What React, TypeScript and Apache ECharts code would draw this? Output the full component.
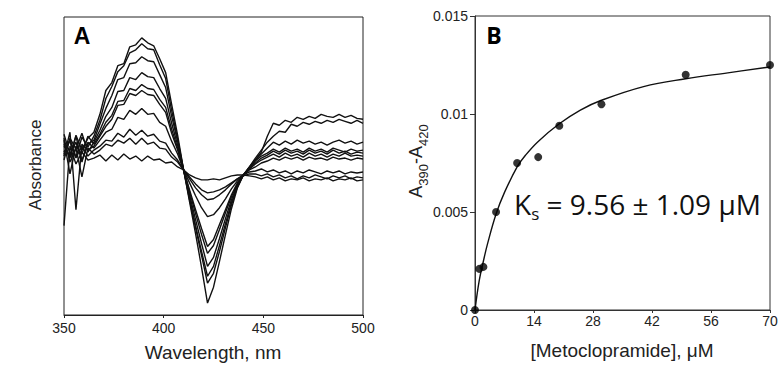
import React, { useEffect, useRef } from "react";
import * as echarts from "echarts";

// Panel A: difference spectra (wavelength in nm, ΔA in arbitrary milli-units)
const wavelengths = [350,353,356,359,362,365,368,371,374,377,380,383,386,389,392,395,398,401,404,407,410,413,416,419,422,425,428,431,434,437,440,443,446,449,452,455,458,461,464,467,470,473,476,479,482,485,488,491,494,497,500];

const spectrum1 = [2.2,0.8,3.1,1.6,2.8,3.4,5.2,7.6,8.4,10.1,10.3,12.0,12.2,12.9,12.4,12.1,10.8,9.4,6.2,3.1,-0.4,-3.6,-6.8,-10.2,-13.8,-12.2,-9.6,-6.9,-4.3,-2.2,-0.9,-0.1,0.6,1.4,3.0,4.3,4.1,4.6,4.4,4.9,4.7,5.0,4.8,5.2,5.0,4.9,5.2,4.9,5.1,4.8,4.7];
const spectrum2 = [1.4,2.6,0.9,2.9,1.9,3.0,4.6,6.8,8.0,9.5,10.1,11.4,11.7,12.3,11.8,11.7,10.2,8.8,5.6,2.7,-0.4,-3.4,-6.2,-9.0,-11.8,-10.8,-8.6,-6.2,-3.9,-2.1,-0.9,-0.1,0.8,1.6,2.4,3.0,3.5,3.4,4.2,4.0,4.4,4.2,4.5,4.3,4.6,4.4,4.7,4.5,4.3,4.6,4.3];
const spectrum3 = [3.2,1.2,2.4,0.6,2.2,2.6,4.2,5.8,7.1,8.7,8.9,10.3,10.4,11.0,10.6,10.5,9.2,7.9,5.0,2.5,-0.4,-3.2,-6.0,-8.6,-11.1,-10.1,-8.0,-5.8,-3.7,-2.0,-0.9,-0.2,0.6,1.2,1.8,2.4,2.1,2.5,2.2,2.6,2.3,2.5,2.2,2.4,2.1,2.4,2.6,2.3,2.5,2.2,2.4];
const spectrum4 = [0.6,2.8,1.7,3.3,1.4,2.4,3.6,5.0,5.9,7.5,7.6,8.9,8.7,9.4,9.0,8.9,7.8,6.8,4.3,2.1,-0.4,-2.9,-5.4,-7.8,-10.1,-9.2,-7.3,-5.3,-3.4,-1.9,-0.9,-0.2,0.5,1.0,1.3,1.7,1.4,1.8,1.5,1.7,1.4,1.8,1.5,1.7,1.4,1.8,1.6,1.4,1.7,1.5,1.6];
const spectrum5 = [2.6,-0.8,2.0,1.2,3.0,2.2,3.2,4.4,5.1,6.5,6.6,7.8,7.6,8.2,7.8,7.7,6.7,5.9,3.7,1.8,-0.4,-2.6,-4.8,-6.9,-8.8,-8.0,-6.4,-4.7,-3.1,-1.8,-0.9,-0.3,0.3,0.8,1.1,1.5,1.2,1.6,1.3,1.5,1.2,1.6,1.3,1.5,1.2,1.6,1.3,1.5,1.2,1.4,1.3];
const spectrum6 = [1.0,3.4,-4.4,2.2,1.6,2.0,3.0,4.0,4.7,6.1,6.2,7.3,7.1,7.6,7.2,7.1,6.2,5.4,3.3,1.6,-0.4,-2.4,-4.4,-6.3,-8.1,-7.4,-5.9,-4.4,-2.9,-1.7,-0.9,-0.3,0.2,0.6,0.9,1.2,0.9,1.3,1.0,1.2,0.9,1.3,1.0,1.2,0.9,1.2,1.0,1.3,1.0,1.1,1.0];
const spectrum7 = [2.0,1.0,3.0,0.4,2.4,1.8,2.6,3.4,3.7,4.9,4.7,5.6,5.2,5.8,5.2,5.3,4.4,4.0,2.5,1.2,-0.4,-1.7,-3.0,-4.2,-5.1,-4.9,-4.2,-3.3,-2.3,-1.5,-0.9,-0.4,-0.1,0.3,0.5,0.8,0.6,0.9,0.7,0.9,0.6,0.9,0.7,0.8,0.6,0.9,0.7,0.8,0.6,0.8,0.7];
const spectrum8 = [1.2,2.6,0.8,2.0,1.0,1.6,2.0,2.6,2.5,3.3,2.9,3.7,3.1,3.6,3.0,3.2,2.5,2.3,1.3,0.6,-0.4,-1.3,-2.2,-2.9,-3.4,-3.3,-2.9,-2.4,-1.8,-1.3,-0.9,-0.6,-0.5,-0.3,-0.6,-0.4,-0.7,-0.5,-0.8,-0.5,-0.7,-0.4,-0.6,-0.8,-0.5,-0.7,-0.5,-0.8,-0.6,-0.7,-0.6];
const spectrum9 = [2.8,0.4,1.8,-1.1,1.8,1.2,1.6,2.2,2.0,2.6,2.3,2.8,2.2,2.8,2.2,2.4,1.8,1.7,0.9,0.4,-0.4,-1.1,-1.8,-2.4,-2.7,-2.6,-2.4,-2.1,-1.7,-1.3,-1.0,-0.8,-0.8,-1.0,-0.8,-1.1,-0.9,-1.2,-1.0,-1.3,-1.0,-1.2,-0.9,-1.1,-1.3,-1.0,-1.2,-1.0,-1.3,-1.1,-1.2];
const spectrum10 = [-6.0,2.0,0.2,1.4,0.6,0.8,1.1,0.5,1.1,0.6,1.2,0.7,1.0,0.5,1.0,0.6,0.7,0.3,0.4,-0.1,-0.4,-0.9,-1.2,-1.4,-1.4,-1.3,-1.4,-1.2,-1.0,-0.9,-0.9,-1.0,-1.1,-1.3,-1.1,-1.4,-1.2,-1.5,-1.3,-1.4,-1.2,-1.5,-1.3,-1.4,-1.2,-1.5,-1.3,-1.4,-1.2,-1.5,-1.4];

const spectra = [spectrum1, spectrum2, spectrum3, spectrum4, spectrum5, spectrum6, spectrum7, spectrum8, spectrum9, spectrum10];

const wavelengthTicks = [350, 400, 450, 500];

// Panel B: binding titration
const concentrations = [0, 1, 2, 5, 10, 15, 20, 30, 50, 70];
const absDiff = [0, 0.0021, 0.0022, 0.005, 0.0075, 0.0078, 0.0094, 0.0105, 0.012, 0.0125];
const fitConc = [0, 1, 2, 3, 5, 7, 10, 12, 15, 20, 25, 30, 40, 50, 60, 70];
const fitAbs = [0, 0.0015, 0.0025, 0.0034, 0.0049, 0.006, 0.0073, 0.0079, 0.0086, 0.0095, 0.0102, 0.0107, 0.0114, 0.0118, 0.0121, 0.0124];
const concTicks = [0, 14, 28, 42, 56, 70];
const absTicks = [0, 0.005, 0.01, 0.015];

const AX = "Liberation Sans, Arial, sans-serif";
const TXT = "#222";

export default function App() {
  const ref = useRef<HTMLDivElement>(null);
  useEffect(() => {
    document.body.style.margin = "0";
    const chart = echarts.init(ref.current!, null, { renderer: "svg" });
    const specSeries = spectra.map((s, i) => ({
      type: "line",
      name: "spectrum" + (i + 1),
      xAxisIndex: 0,
      yAxisIndex: 0,
      data: wavelengths.map((w, j) => [w, s[j]]),
      showSymbol: false,
      symbol: "none",
      lineStyle: { color: "#111", width: 1.4 },
      silent: true,
    }));
    const option = {
      animation: false,
      backgroundColor: "#fff",
      grid: [
        { left: 64, top: 17, width: 299, height: 298, show: true, borderColor: "#222", borderWidth: 1, backgroundColor: "transparent" },
        { left: 475, top: 16, width: 295, height: 294, show: true, borderColor: "#333", borderWidth: 1, backgroundColor: "transparent" },
      ],
      xAxis: [
        {
          type: "value", gridIndex: 0, min: wavelengthTicks[0], max: wavelengthTicks[3], interval: 50,
          axisLine: { show: true, onZero: false, lineStyle: { color: "#222", width: 1 } },
          axisTick: { show: true, length: 3, lineStyle: { color: "#222" } },
          axisLabel: { fontSize: 14, color: TXT, margin: 6, fontFamily: AX },
          splitLine: { show: false },
        },
        {
          type: "value", gridIndex: 1, min: concTicks[0], max: concTicks[5], interval: 14,
          axisLine: { show: true, onZero: false, lineStyle: { color: "#333", width: 1 } },
          axisTick: { show: true, length: 3, lineStyle: { color: "#333" } },
          axisLabel: { fontSize: 14, color: TXT, margin: 4, fontFamily: AX },
          splitLine: { show: false },
        },
      ],
      yAxis: [
        {
          type: "value", gridIndex: 0, min: -15, max: 15,
          axisLine: { show: false }, axisTick: { show: false }, axisLabel: { show: false }, splitLine: { show: false },
        },
        {
          type: "value", gridIndex: 1, min: absTicks[0], max: absTicks[3], interval: 0.005,
          axisLine: { show: true, onZero: false, lineStyle: { color: "#333", width: 1 } },
          axisTick: { show: true, length: 5, lineStyle: { color: "#333" } },
          axisLabel: { fontSize: 14, color: TXT, margin: 7, fontFamily: AX },
          splitLine: { show: false },
        },
      ],
      series: [
        ...specSeries,
        {
          type: "line", name: "fit", xAxisIndex: 1, yAxisIndex: 1,
          data: fitConc.map((c, i) => [c, fitAbs[i]]),
          smooth: 0.4, showSymbol: false, symbol: "none",
          lineStyle: { color: "#111", width: 1.4 }, silent: true, z: 3,
        },
        {
          type: "scatter", name: "data", xAxisIndex: 1, yAxisIndex: 1,
          data: concentrations.map((c, i) => [c, absDiff[i]]),
          symbol: "circle", symbolSize: 8,
          itemStyle: { color: "#000" }, silent: true, z: 4,
        },
      ],
      graphic: [
        { type: "text", x: 82, y: 36, style: { text: "A", fontSize: 23, fontWeight: "bold", fontFamily: AX, fill: "#000", align: "center", verticalAlign: "middle" } },
        { type: "text", x: 494, y: 35, style: { text: "B", fontSize: 23, fontWeight: "bold", fontFamily: "Open Sans, sans-serif", fill: "#000", align: "center", verticalAlign: "middle" } },
        { type: "text", x: 35, y: 165, rotation: Math.PI / 2, style: { text: "Absorbance", fontSize: 17, fontFamily: AX, fill: TXT, align: "center", verticalAlign: "middle" } },
        { type: "text", x: 213, y: 352, style: { text: "Wavelength, nm", fontSize: 19, fontFamily: AX, fill: TXT, align: "center", verticalAlign: "middle" } },
        { type: "text", x: 622, y: 350, style: { text: "[Metoclopramide], μM", fontSize: 19, fontFamily: AX, fill: TXT, align: "center", verticalAlign: "middle" } },
        {
          type: "text", x: 416, y: 161, rotation: Math.PI / 2,
          style: {
            text: "{a|A}{s|390}{a|-A}{s|420}",
            align: "center", verticalAlign: "middle", fill: TXT,
            rich: {
              a: { fontSize: 18, fontFamily: AX, fill: TXT },
              s: { fontSize: 13, fontFamily: AX, fill: TXT, padding: [14, 0, 0, 0] },
            },
          },
        },
        {
          type: "text", x: 514, y: 204,
          style: {
            text: "{k|K}{s|s}{k| = 9.56 ± 1.09 μM}",
            align: "left", verticalAlign: "middle", fill: "#111",
            rich: {
              k: { fontSize: 28, fontFamily: "Open Sans, sans-serif", fill: "#111" },
              s: { fontSize: 17, fontFamily: "Open Sans, sans-serif", fill: "#111", padding: [18, 0, 0, 0] },
            },
          },
        },
      ],
    };
    chart.setOption(option as any);
    return () => chart.dispose();
  }, []);
  return <div ref={ref} style={{ width: 781, height: 371 }} />;
}
